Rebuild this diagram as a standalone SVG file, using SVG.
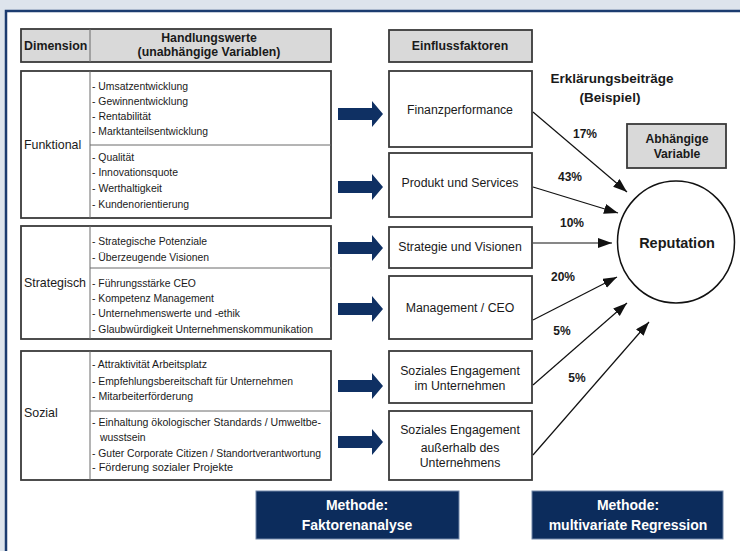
<svg xmlns="http://www.w3.org/2000/svg" width="740" height="551" viewBox="0 0 740 551">
<style>
.hdr{fill:#d9d9d9;stroke:#3a3a3a;stroke-width:1.8}
.box{fill:#fff;stroke:#3a3a3a;stroke-width:1.8}
.div{stroke:#6a6a6a;stroke-width:1;fill:none}
.b{font-family:"Liberation Sans",Arial,sans-serif;font-weight:bold;fill:#1a1a1a}
.r{font-family:"Liberation Sans",Arial,sans-serif;fill:#1a1a1a}
.li{font-family:"Liberation Sans",Arial,sans-serif;font-size:11px;fill:#1a1a1a}
.ln{font-family:"Liberation Sans",Arial,sans-serif;font-size:10.4px;fill:#1a1a1a}
.m{fill:#0c2c5c;stroke:#7186a8;stroke-width:1}
.mt{font-family:"Liberation Sans",Arial,sans-serif;font-weight:bold;font-size:14px;fill:#fff}
.con{stroke:#111;stroke-width:1.2;fill:none}
</style>
<defs>
<marker id="ah" markerUnits="userSpaceOnUse" markerWidth="15" markerHeight="11" refX="14" refY="5" orient="auto">
<path d="M0,0 L14,5 L0,10 z" fill="#111"/>
</marker>
<path id="blk" d="M338,-6 L372,-6 L372,-13 L383,0 L372,13 L372,6 L338,6 z" fill="#0f3063"/>
</defs>
<rect x="0" y="0" width="740" height="551" fill="#dde4ec"/>
<rect x="6" y="11" width="740" height="545" fill="#fff" stroke="#1b3b6f" stroke-width="2.5"/>

<g id="header-left">
<rect class="hdr" x="21" y="29" width="310" height="33"/>
<line class="div" x1="90" y1="29" x2="90" y2="62"/>
<text class="b" x="24" y="50" font-size="12.4">Dimension</text>
<text class="b" x="209" y="42" font-size="12.3" text-anchor="middle">Handlungswerte</text>
<text class="b" x="209" y="56" font-size="12.3" text-anchor="middle">(unabhängige Variablen)</text>
</g>

<g id="funktional">
<rect class="box" x="21" y="71" width="310" height="147"/>
<line class="div" x1="90" y1="71" x2="90" y2="218"/>
<line class="div" x1="90" y1="145" x2="331" y2="145"/>
<text class="r" x="24" y="149" font-size="12.4">Funktional</text>
<text class="li" x="92" y="90" textLength="96" lengthAdjust="spacingAndGlyphs">- Umsatzentwicklung</text>
<text class="li" x="92" y="105" textLength="96" lengthAdjust="spacingAndGlyphs">- Gewinnentwicklung</text>
<text class="li" x="92" y="120" textLength="59" lengthAdjust="spacingAndGlyphs">- Rentabilität</text>
<text class="li" x="92" y="135" textLength="116" lengthAdjust="spacingAndGlyphs">- Marktanteilsentwicklung</text>
<text class="ln" x="92" y="161">- Qualität</text>
<text class="li" x="92" y="176" textLength="86" lengthAdjust="spacingAndGlyphs">- Innovationsquote</text>
<text class="li" x="92" y="192" textLength="70" lengthAdjust="spacingAndGlyphs">- Werthaltigkeit</text>
<text class="li" x="92" y="208" textLength="97" lengthAdjust="spacingAndGlyphs">- Kundenorientierung</text>
</g>

<g id="strategisch">
<rect class="box" x="21" y="226" width="310" height="113"/>
<line class="div" x1="90" y1="226" x2="90" y2="339"/>
<line class="div" x1="90" y1="268" x2="331" y2="268"/>
<text class="r" x="24" y="287" font-size="12.4">Strategisch</text>
<text class="li" x="92" y="245" textLength="115" lengthAdjust="spacingAndGlyphs">- Strategische Potenziale</text>
<text class="li" x="92" y="261" textLength="117" lengthAdjust="spacingAndGlyphs">- Überzeugende Visionen</text>
<text class="ln" x="92" y="287">- Führungsstärke CEO</text>
<text class="li" x="92" y="302" textLength="122" lengthAdjust="spacingAndGlyphs">- Kompetenz Management</text>
<text class="li" x="92" y="317" textLength="148" lengthAdjust="spacingAndGlyphs">- Unternehmenswerte und -ethik</text>
<text class="li" x="92" y="333" textLength="221" lengthAdjust="spacingAndGlyphs">- Glaubwürdigkeit Unternehmenskommunikation</text>
</g>

<g id="sozial">
<rect class="box" x="21" y="351" width="310" height="129"/>
<line class="div" x1="90" y1="351" x2="90" y2="480"/>
<line class="div" x1="90" y1="411" x2="331" y2="411"/>
<text class="r" x="24" y="417" font-size="12.4">Sozial</text>
<text class="li" x="92" y="368" textLength="115" lengthAdjust="spacingAndGlyphs">- Attraktivität Arbeitsplatz</text>
<text class="li" x="92" y="385" textLength="201" lengthAdjust="spacingAndGlyphs">- Empfehlungsbereitschaft für Unternehmen</text>
<text class="li" x="92" y="400" textLength="101" lengthAdjust="spacingAndGlyphs">- Mitarbeiterförderung</text>
<text class="li" x="92" y="426" textLength="229" lengthAdjust="spacingAndGlyphs">- Einhaltung ökologischer Standards / Umweltbe-</text>
<text class="ln" x="100" y="441">wusstsein</text>
<text class="li" x="92" y="457" textLength="229" lengthAdjust="spacingAndGlyphs">- Guter Corporate Citizen / Standortverantwortung</text>
<text class="li" x="92" y="471" textLength="141" lengthAdjust="spacingAndGlyphs">- Förderung sozialer Projekte</text>
</g>

<g id="block-arrows">
<use href="#blk" transform="translate(0,114)"/>
<use href="#blk" transform="translate(0,187)"/>
<use href="#blk" transform="translate(0,248)"/>
<use href="#blk" transform="translate(0,309)"/>
<use href="#blk" transform="translate(0,386)"/>
<use href="#blk" transform="translate(0,442)"/>
</g>

<g id="einflussfaktoren">
<rect class="hdr" x="389" y="30" width="143" height="32"/>
<text class="b" x="460" y="50" font-size="12.3" text-anchor="middle">Einflussfaktoren</text>
</g>
<g id="finanzperformance">
<rect class="box" x="389" y="71" width="143" height="76"/>
<text class="r" x="460" y="114" font-size="12.3" text-anchor="middle">Finanzperformance</text>
</g>
<g id="produkt">
<rect class="box" x="389" y="153" width="143" height="64"/>
<text class="r" x="460" y="187" font-size="12.3" text-anchor="middle">Produkt und Services</text>
</g>
<g id="strategie">
<rect class="box" x="389" y="227" width="143" height="41"/>
<text class="r" x="460" y="251" font-size="12.3" text-anchor="middle">Strategie und Visionen</text>
</g>
<g id="management">
<rect class="box" x="389" y="276" width="143" height="63"/>
<text class="r" x="460" y="312" font-size="12.3" text-anchor="middle">Management / CEO</text>
</g>
<g id="sozial-im">
<rect class="box" x="389" y="351" width="143" height="52"/>
<text class="r" x="460" y="375" font-size="12.3" text-anchor="middle">Soziales Engagement</text>
<text class="r" x="460" y="390" font-size="12.3" text-anchor="middle">im Unternehmen</text>
</g>
<g id="sozial-ausserhalb">
<rect class="box" x="389" y="411" width="143" height="69"/>
<text class="r" x="460" y="434" font-size="12.3" text-anchor="middle">Soziales Engagement</text>
<text class="r" x="460" y="452" font-size="12.3" text-anchor="middle">außerhalb des</text>
<text class="r" x="460" y="467" font-size="12.3" text-anchor="middle">Unternehmens</text>
</g>

<g id="erklaerung">
<text class="b" x="612" y="83" font-size="13.5" text-anchor="middle">Erklärungsbeiträge</text>
<text class="b" x="610" y="102" font-size="13.5" text-anchor="middle">(Beispiel)</text>
</g>

<g id="abhaengige">
<rect class="hdr" x="627" y="124" width="99" height="44"/>
<text class="b" x="677" y="143" font-size="12.2" text-anchor="middle">Abhängige</text>
<text class="b" x="677" y="158" font-size="12.2" text-anchor="middle">Variable</text>
</g>

<g id="reputation">
<ellipse cx="676" cy="242" rx="58.5" ry="61" fill="#fff" stroke="#111" stroke-width="1.5"/>
<text class="b" x="677" y="248" font-size="14.5" text-anchor="middle">Reputation</text>
</g>

<g id="connectors">
<line class="con" x1="533" y1="112" x2="627" y2="192" marker-end="url(#ah)"/>
<line class="con" x1="533" y1="187" x2="618" y2="213" marker-end="url(#ah)"/>
<line class="con" x1="533" y1="243" x2="612" y2="243" marker-end="url(#ah)"/>
<line class="con" x1="533" y1="320" x2="617" y2="277" marker-end="url(#ah)"/>
<line class="con" x1="533" y1="385" x2="627" y2="303" marker-end="url(#ah)"/>
<line class="con" x1="533" y1="455" x2="649" y2="322" marker-end="url(#ah)"/>
</g>

<g id="percent-labels">
<text class="b" x="585" y="138" font-size="12" text-anchor="middle">17%</text>
<text class="b" x="570" y="181" font-size="12" text-anchor="middle">43%</text>
<text class="b" x="572" y="227" font-size="12" text-anchor="middle">10%</text>
<text class="b" x="563" y="281" font-size="12" text-anchor="middle">20%</text>
<text class="b" x="562" y="335" font-size="12" text-anchor="middle">5%</text>
<text class="b" x="577" y="382" font-size="12" text-anchor="middle">5%</text>
</g>

<g id="methode-faktor">
<rect class="m" x="256" y="491" width="203" height="48"/>
<text class="mt" x="357" y="510" text-anchor="middle">Methode:</text>
<text class="mt" x="357" y="530" text-anchor="middle">Faktorenanalyse</text>
</g>
<g id="methode-regression">
<rect class="m" x="532" y="491" width="191" height="48"/>
<text class="mt" x="628" y="510" text-anchor="middle">Methode:</text>
<text class="mt" x="628" y="530" text-anchor="middle">multivariate Regression</text>
</g>
</svg>
